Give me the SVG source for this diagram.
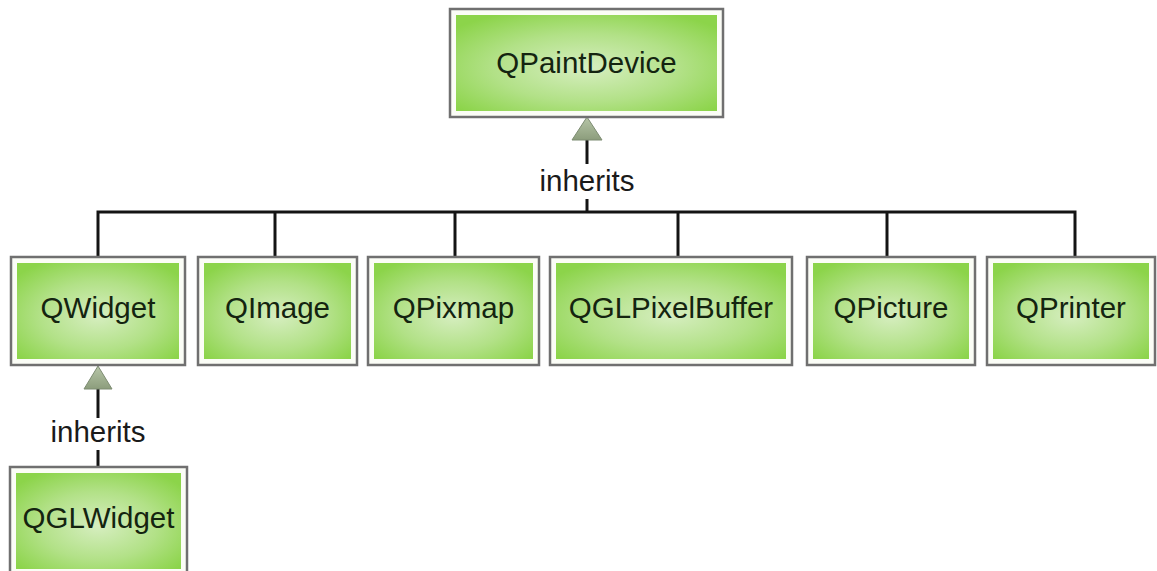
<svg xmlns="http://www.w3.org/2000/svg" width="1157" height="571" viewBox="0 0 1157 571">
  <style>
    .frame { fill: #fbfdf6; stroke: #707070; stroke-width: 2.5; }
    .fill { fill: url(#nodeGrad); }
    .label { font-family: "Liberation Sans", Arial, sans-serif; font-size: 29.5px; fill: #142410; text-anchor: middle; }
    .link { stroke: #141414; stroke-width: 3; fill: none; }
    .tri { fill: url(#triGrad); stroke: #7d8c72; stroke-width: 1; }
    .tag { font-family: "Liberation Sans", Arial, sans-serif; font-size: 29.5px; fill: #1a1a1a; text-anchor: middle; }
  </style>
  <defs>
    <radialGradient id="nodeGrad" cx="0.5" cy="0.55" r="0.65">
      <stop offset="0" stop-color="#d6eec0"/>
      <stop offset="0.55" stop-color="#b2e187"/>
      <stop offset="1" stop-color="#8cd44a"/>
    </radialGradient>
    <linearGradient id="triGrad" x1="0" y1="0" x2="0" y2="1">
      <stop offset="0" stop-color="#b7c6a8"/>
      <stop offset="1" stop-color="#8c9d7c"/>
    </linearGradient>
  </defs>

  <rect width="1157" height="571" fill="#ffffff"/>

  <!-- connectors -->
  <g id="connectors">
    <!-- QPaintDevice subclasses -->
    <line class="link" x1="587" y1="139" x2="587" y2="164"/>
    <line class="link" x1="587" y1="199" x2="587" y2="212"/>
    <polyline class="link" points="98,257 98,212 1075,212 1075,257"/>
    <line class="link" x1="275" y1="212" x2="275" y2="257"/>
    <line class="link" x1="455" y1="212" x2="455" y2="257"/>
    <line class="link" x1="678" y1="212" x2="678" y2="257"/>
    <line class="link" x1="887" y1="212" x2="887" y2="257"/>
    <polygon class="tri" points="587,117 602,140 572,140"/>
    <text class="tag" x="587" y="191">inherits</text>

    <!-- QWidget subclass -->
    <line class="link" x1="98" y1="389" x2="98" y2="418"/>
    <line class="link" x1="98" y1="450" x2="98" y2="467"/>
    <polygon class="tri" points="98,366 112,389 84,389"/>
    <text class="tag" x="98" y="442">inherits</text>
  </g>

  <g id="QPaintDevice">
    <rect class="frame" x="450" y="9" width="273" height="108"/>
    <rect class="fill" x="456" y="15" width="261" height="96"/>
    <text class="label" x="586.5" y="73">QPaintDevice</text>
  </g>

  <g id="QWidget">
    <rect class="frame" x="11" y="257" width="174" height="108"/>
    <rect class="fill" x="17" y="263" width="162" height="96"/>
    <text class="label" x="98" y="318">QWidget</text>
  </g>

  <g id="QImage">
    <rect class="frame" x="198" y="257" width="159" height="108"/>
    <rect class="fill" x="204" y="263" width="147" height="96"/>
    <text class="label" x="277.5" y="318">QImage</text>
  </g>

  <g id="QPixmap">
    <rect class="frame" x="368" y="257" width="171" height="108"/>
    <rect class="fill" x="374" y="263" width="159" height="96"/>
    <text class="label" x="453.5" y="318">QPixmap</text>
  </g>

  <g id="QGLPixelBuffer">
    <rect class="frame" x="550" y="257" width="242" height="108"/>
    <rect class="fill" x="556" y="263" width="230" height="96"/>
    <text class="label" x="671" y="318">QGLPixelBuffer</text>
  </g>

  <g id="QPicture">
    <rect class="frame" x="807" y="257" width="168" height="108"/>
    <rect class="fill" x="813" y="263" width="156" height="96"/>
    <text class="label" x="891" y="318">QPicture</text>
  </g>

  <g id="QPrinter">
    <rect class="frame" x="987" y="257" width="168" height="108"/>
    <rect class="fill" x="993" y="263" width="156" height="96"/>
    <text class="label" x="1071" y="318">QPrinter</text>
  </g>

  <g id="QGLWidget">
    <rect class="frame" x="10" y="467" width="177" height="108"/>
    <rect class="fill" x="16" y="473" width="165" height="96"/>
    <text class="label" x="98.5" y="528">QGLWidget</text>
  </g>
</svg>
